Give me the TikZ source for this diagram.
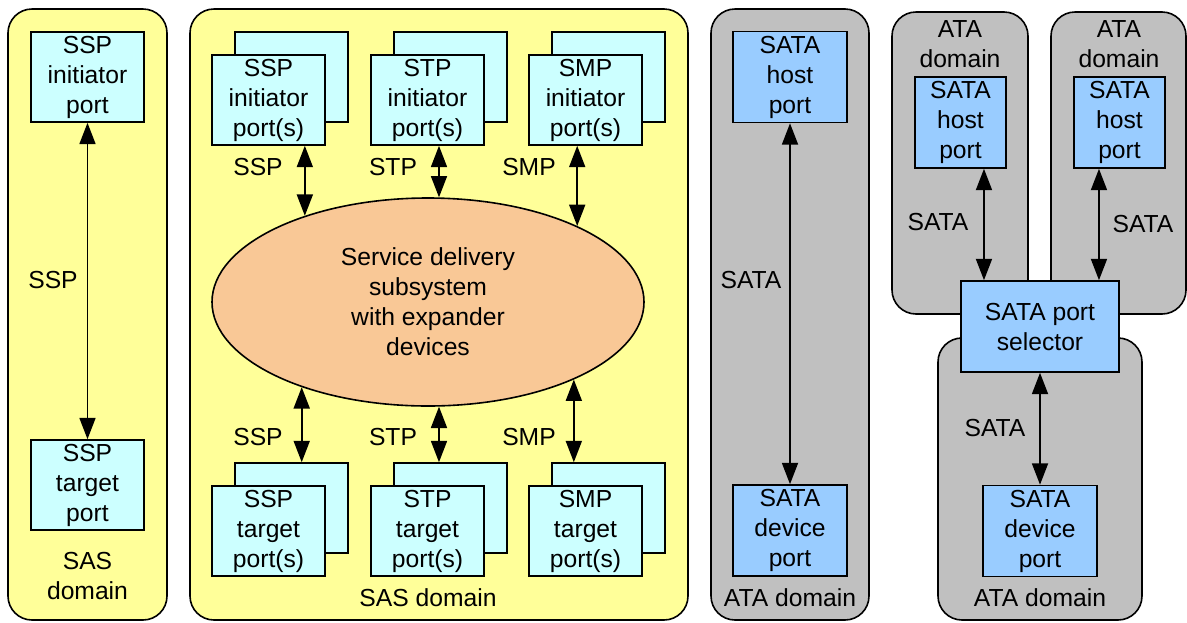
\documentclass[tikz,border=0pt]{standalone}
\usepackage{fontspec}
\setmainfont{Liberation Sans}
\usetikzlibrary{arrows.meta}
\usetikzlibrary{shapes.geometric}
\definecolor{sasyellow}{RGB}{255,255,153}
\definecolor{portcyan}{RGB}{204,255,255}
\definecolor{sataport}{RGB}{153,204,255}
\definecolor{atagrey}{RGB}{192,192,192}
\definecolor{sdsorange}{RGB}{249,200,150}

\begin{document}
\begin{tikzpicture}[x=0.75pt,y=0.75pt,yscale=-1,xscale=1,
  every node/.style={font=\fontsize{18.5}{22.5}\selectfont, align=center, inner sep=0.75pt},
  domainbox/.style={draw, line width=1.2pt, rounded corners=18pt},
  sasdom/.style={domainbox, fill=sasyellow},
  atadom/.style={domainbox, fill=atagrey},
  portbox/.style={draw, line width=1.2pt, fill=portcyan, minimum width=84.75pt, minimum height=67.5pt},
  satabox/.style={draw, line width=1.2pt, fill=sataport, minimum height=68.25pt},
  link/.style={line width=1.3pt, {Triangle[length=16pt,width=12pt]}-{Triangle[length=16pt,width=12pt]}}]
\useasboundingbox (0,0) rectangle (1187,622);

%Shape: Rounded Rect (domains)
\node[sasdom, minimum width=119.25pt, minimum height=458.25pt] (sasL) at (87.5,314.5) {};
\node[sasdom, minimum width=373.5pt, minimum height=458.25pt] (sasM) at (439,314.5) {};
\node[atadom, minimum width=118.5pt, minimum height=458.25pt] (ataL) at (790,314.5) {};
\node[atadom, minimum width=102pt, minimum height=226.5pt] (ataA) at (960,163) {};
\node[atadom, minimum width=101.25pt, minimum height=226.5pt] (ataB) at (1118.5,163) {};
\node[atadom, minimum width=153pt, minimum height=211.5pt] (ataC) at (1040,479) {};

%Shape: Rectangle (left SAS domain)
\node[portbox] (sspI) at (87.5,77) {SSP\\initiator\\port};
\node[portbox] (sspT) at (87.5,485) {SSP\\target\\port};
\draw[link] (sspI) -- (sspT);
% Text Node
\node (sspLbl) at (53,280) {SSP};
% Text Node
\node (sasLtxt) at (87.5,576) {SAS\\domain};

%Shape: Rectangle (stacked initiator ports)
\node[portbox] (sspIb) at (291.5,77) {};
\node[portbox] (sspIf) at (268.5,100) {SSP\\initiator\\port(s)};
\node[portbox] (stpIb) at (450.5,77) {};
\node[portbox] (stpIf) at (427.5,100) {STP\\initiator\\port(s)};
\node[portbox] (smpIb) at (608.5,77) {};
\node[portbox] (smpIf) at (585.5,100) {SMP\\initiator\\port(s)};

%Shape: Rectangle (stacked target ports)
\node[portbox] (sspTb) at (291.5,508) {};
\node[portbox] (sspTf) at (268.5,531) {SSP\\target\\port(s)};
\node[portbox] (stpTb) at (450.5,508) {};
\node[portbox] (stpTf) at (427.5,531) {STP\\target\\port(s)};
\node[portbox] (smpTb) at (608.5,508) {};
\node[portbox] (smpTf) at (585.5,531) {SMP\\target\\port(s)};

%Shape: Ellipse
\node[ellipse, draw, line width=1.2pt, fill=sdsorange, minimum width=324pt, minimum height=156pt, inner sep=0pt] (sds) at (428,302) {Service delivery\\subsystem\\with expander\\devices};

\draw[link] (sds.145.85 |- sspIf.south) -- (sds.145.85);
\draw[link] (sds.84.5 |- stpIf.south) -- (sds.84.5);
\draw[link] (sds.27.4 |- smpIf.south) -- (sds.27.4);
\draw[link] (sds.214.15) -- (sds.214.15 |- sspTb.north);
\draw[link] (sds.276) -- (sds.276 |- stpTb.north);
\draw[link] (sds.332.9) -- (sds.332.9 |- smpTb.north);

% Text Node
\node (sspUp) at (258,167) {SSP};
\node (stpUp) at (393,167) {STP};
\node (smpUp) at (529,167) {SMP};
\node (sspDn) at (258,437) {SSP};
\node (stpDn) at (393,437) {STP};
\node (smpDn) at (529,437) {SMP};
\node (sasMtxt) at (428,598) {SAS domain};

%Shape: Rectangle (direct ATA domain)
\node[satabox, minimum width=85.5pt] (hostL) at (790,77) {SATA\\host\\port};
\node[satabox, minimum width=85.5pt] (devL) at (790,530.5) {SATA\\device\\port};
\draw[link] (hostL) -- (devL);
% Text Node
\node (sataL) at (751,280) {SATA};
\node (ataLtxt) at (790,598) {ATA domain};

%Shape: Rectangle (port selector side)
\node (ataAtxt) at (960,44) {ATA\\domain};
\node (ataBtxt) at (1119,44) {ATA\\domain};
\node[satabox, minimum width=68.25pt] (hostA) at (960.5,122.5) {SATA\\host\\port};
\node[satabox, minimum width=68.25pt] (hostB) at (1119.5,122.5) {SATA\\host\\port};
\node[satabox, minimum width=118.5pt] (sel) at (1040,326.5) {SATA port\\selector};
\node[satabox, minimum width=85.5pt] (devR) at (1040,531) {SATA\\device\\port};
\draw[link] ([xshift=17.6pt]hostA.south) -- ([xshift=17.6pt]hostA.south |- sel.north);
\draw[link] ([xshift=-15.4pt]hostB.south) -- ([xshift=-15.4pt]hostB.south |- sel.north);
\draw[link] (sel) -- (devR);
% Text Node
\node (sataA) at (938,222) {SATA};
\node (sataB) at (1143,224) {SATA};
\node (sataC) at (995,428) {SATA};
\node (ataCtxt) at (1040,598) {ATA domain};

\end{tikzpicture}
\end{document}
